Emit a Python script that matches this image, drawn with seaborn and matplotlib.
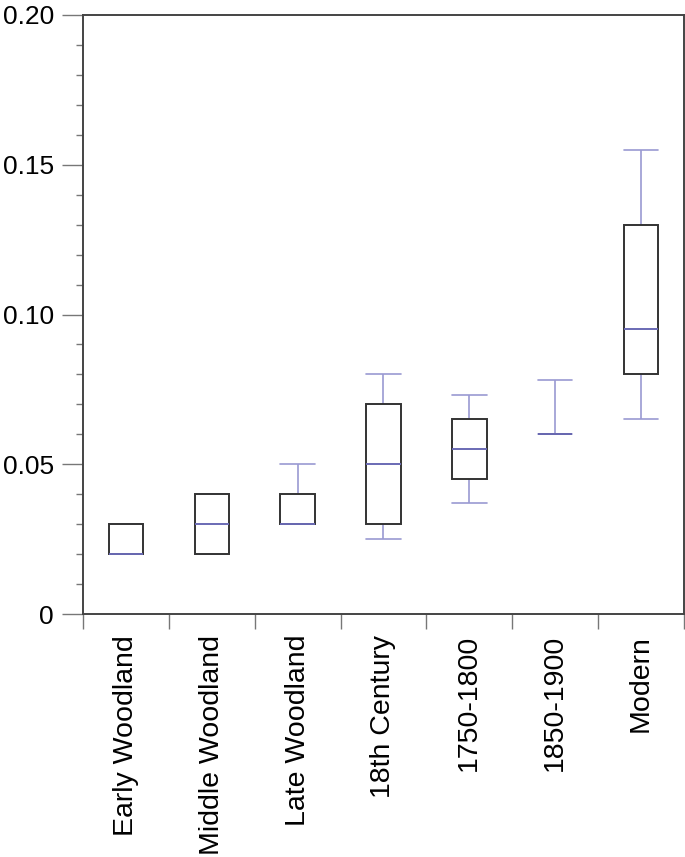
import numpy as np
import pandas as pd
import matplotlib
matplotlib.use("Agg")
import matplotlib.pyplot as plt
from matplotlib.ticker import MultipleLocator, FixedLocator
import seaborn as sns

# five-number summaries: low whisker, Q1, median, Q3, high whisker
periods = ["Early Woodland", "Middle Woodland", "Late Woodland", "18th Century",
           "1750-1800", "1850-1900", "Modern"]
lows    = [0.020, 0.020, 0.030, 0.025, 0.037, 0.060, 0.065]
q1s     = [0.020, 0.020, 0.030, 0.030, 0.045, 0.060, 0.080]
medians = [0.020, 0.030, 0.030, 0.050, 0.055, 0.060, 0.095]
q3s     = [0.030, 0.040, 0.040, 0.070, 0.065, 0.060, 0.130]
highs   = [0.030, 0.040, 0.050, 0.080, 0.073, 0.078, 0.155]

rows = []
for p, a, b, c, d, e in zip(periods, lows, q1s, medians, q3s, highs):
    for v in (a, b, c, d, e):
        rows.append({"period": p, "value": v})
df = pd.DataFrame(rows)

sns.set_style("white")
plt.rcParams["font.family"] = ["Liberation Sans", "DejaVu Sans"]

fig = plt.figure(figsize=(6.85, 8.57), dpi=100)
ax = fig.add_axes([0.1212, 0.2835, 0.8773, 0.699])

box_edge = "#333333"
whisker_col = "#9a9ad2"
median_col = "#6a6ab4"

sns.boxplot(data=df, x="period", y="value", order=periods, ax=ax,
            whis=(0, 100), width=0.4, color="white", linecolor=box_edge,
            linewidth=1.4, showfliers=False, saturation=1,
            whiskerprops=dict(color=whisker_col, linewidth=1.2),
            capprops=dict(color=whisker_col, linewidth=1.2),
            medianprops=dict(color=median_col, linewidth=1.4))

for cont in ax.containers:
    for w in cont.whiskers:
        w.set_zorder(1.5)
    for c in cont.caps:
        c.set_zorder(1.5)
        xs = c.get_xdata()
        mid = np.mean(xs)
        c.set_xdata([mid - 0.2, mid + 0.2])
    for b in cont.boxes:
        b.set_zorder(2)
        b.set_edgecolor(box_edge)
    for m in cont.medians:
        m.set_zorder(2.5)

ax.set_ylim(0, 0.20)
ax.set_xlim(-0.5, 6.5)
ax.set_yticks([0, 0.05, 0.10, 0.15, 0.20])
ax.set_yticklabels(["0", "0.05", "0.10", "0.15", "0.20"])
ax.yaxis.set_minor_locator(MultipleLocator(0.01))
ax.xaxis.set_minor_locator(FixedLocator(np.arange(-0.5, 7, 1)))
ax.set_xlabel("")
ax.set_ylabel("")

ax.tick_params(axis="y", which="major", direction="out", length=15, width=1,
               color="#777777", labelsize=19, pad=6, left=True, labelcolor="black")
ax.tick_params(axis="y", which="minor", direction="out", length=5, width=1,
               color="#777777", left=True)
ax.tick_params(axis="x", which="major", length=0, labelsize=20.5, pad=15,
               labelrotation=90, bottom=True, labelcolor="black")
ax.tick_params(axis="x", which="minor", direction="out", length=11, width=1,
               color="#777777", bottom=True)

for s in ax.spines.values():
    s.set_visible(True)
    s.set_color("#444444")
    s.set_linewidth(1.4)

fig.savefig("out.png", dpi=100)
